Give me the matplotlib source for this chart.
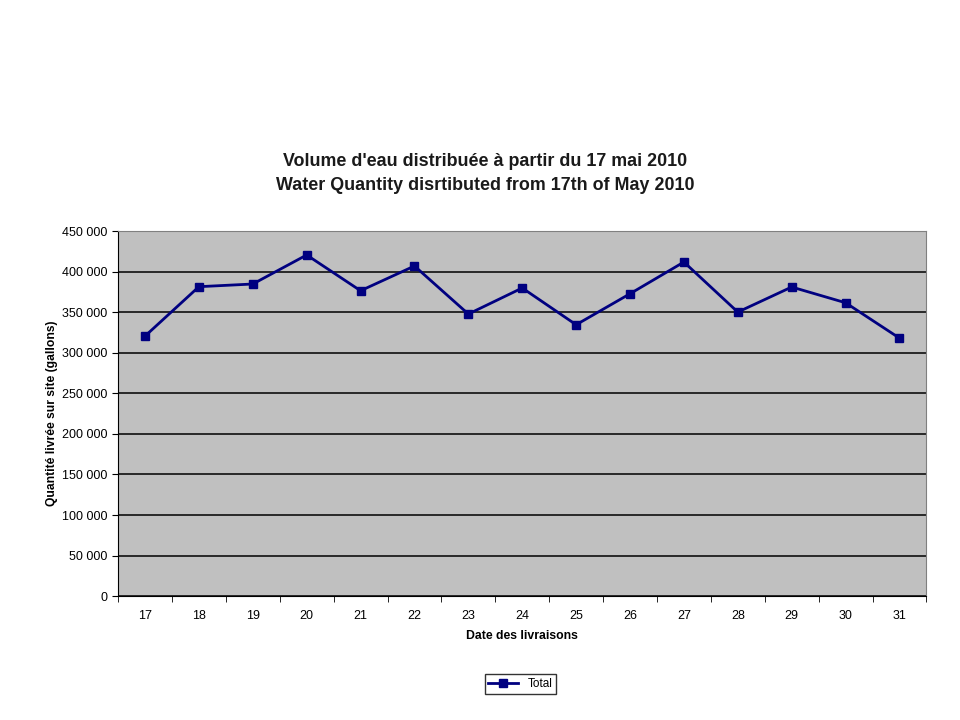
import matplotlib
matplotlib.use("Agg")
import matplotlib.pyplot as plt
from matplotlib.ticker import FuncFormatter, FixedLocator

plt.rcParams['font.family'] = ['Liberation Sans', 'DejaVu Sans']

days = ["17", "18", "19", "20", "21", "22", "23", "24", "25", "26", "27", "28", "29", "30", "31"]
total = [320600, 381500, 384800, 420600, 376500, 407000, 347800, 379900,
         334600, 372800, 411900, 350200, 381100, 361700, 318100]

fig = plt.figure(figsize=(9.6, 7.2), dpi=100)
ax = fig.add_axes([0.123, 0.172, 0.842, 0.507])
ax.set_facecolor("#C0C0C0")

x = list(range(len(days)))
ax.plot(x, total, color="#000080", lw=2, marker="s", ms=6, label="Total", zorder=3)

ax.set_xlim(-0.5, len(days) - 0.5)
ax.set_ylim(0, 450000)
ax.set_yticks(range(0, 450001, 50000))
ax.yaxis.set_major_formatter(FuncFormatter(lambda v, p: f"{int(v):,}".replace(",", " ")))
ax.grid(axis="y", color="#000000", lw=1.1)
ax.set_axisbelow(True)

# category labels centred, tick marks between categories
ax.set_xticks(x)
ax.set_xticklabels(days)
ax.tick_params(axis="x", length=0, pad=10, labelsize=9)
ax.xaxis.set_minor_locator(FixedLocator([i - 0.5 for i in range(len(days) + 1)]))
ax.tick_params(axis="x", which="minor", length=4, direction="out")
ax.tick_params(axis="y", length=4, direction="out", labelsize=9)

for side in ["top", "right"]:
    ax.spines[side].set_color("#808080")
for side in ["left", "bottom"]:
    ax.spines[side].set_color("#000000")

ax.set_xlabel("Date des livraisons", fontsize=8.8, fontweight="bold", labelpad=6)
ax.set_ylabel("Quantité livrée sur site (gallons)", fontsize=8.7, fontweight="bold", labelpad=3)

fig.text(0.505, 0.759, "Volume d'eau distribuée à partir du 17 mai 2010\nWater Quantity disrtibuted from 17th of May 2010",
         ha="center", va="center", fontsize=12.9, fontweight="bold", linespacing=1.5,
         color="#1a1a1a")

fig.legend(loc="center", bbox_to_anchor=(0.542, 0.05), fontsize=8.5, frameon=True,
           fancybox=False, edgecolor="#000000", handlelength=2.5, borderpad=0.3)

fig.savefig("out.png", dpi=100)
